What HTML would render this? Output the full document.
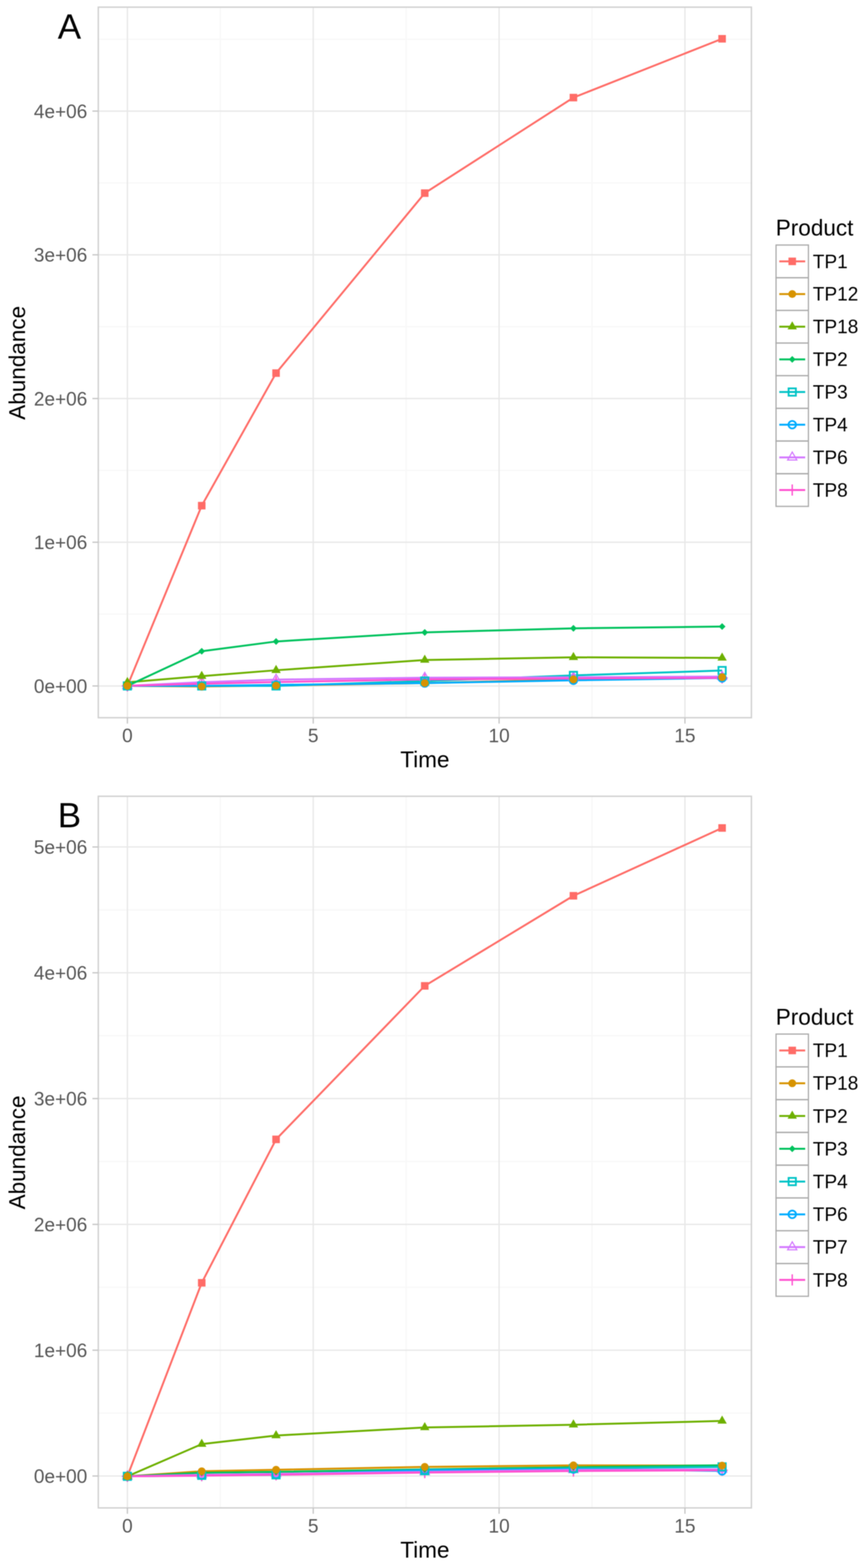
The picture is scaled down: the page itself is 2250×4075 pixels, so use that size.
<!DOCTYPE html><html><head><meta charset="utf-8"><title>Abundance over time</title>
<style>html,body{margin:0;padding:0;background:#fff;}svg{display:block;filter:blur(0.9px);}text{font-family:"Liberation Sans",Arial,Helvetica,sans-serif;}</style></head><body>
<svg width="2250" height="4075" viewBox="0 0 2250 4075">
<rect width="2250" height="4075" fill="#fff"/>
<g stroke="#f8f8f8" stroke-width="3.6"><line x1="255.4" y1="1595.95" x2="1952.3" y2="1595.95"/><line x1="255.4" y1="1222.45" x2="1952.3" y2="1222.45"/><line x1="255.4" y1="848.95" x2="1952.3" y2="848.95"/><line x1="255.4" y1="475.45" x2="1952.3" y2="475.45"/><line x1="255.4" y1="101.95" x2="1952.3" y2="101.95"/><line x1="572.39" y1="18.6" x2="572.39" y2="1865.2"/><line x1="1055.26" y1="18.6" x2="1055.26" y2="1865.2"/><line x1="1538.13" y1="18.6" x2="1538.13" y2="1865.2"/></g>
<g stroke="#e8e8e8" stroke-width="3.4"><line x1="255.4" y1="1782.7" x2="1952.3" y2="1782.7"/><line x1="255.4" y1="1409.2" x2="1952.3" y2="1409.2"/><line x1="255.4" y1="1035.7" x2="1952.3" y2="1035.7"/><line x1="255.4" y1="662.2" x2="1952.3" y2="662.2"/><line x1="255.4" y1="288.7" x2="1952.3" y2="288.7"/><line x1="330.96" y1="18.6" x2="330.96" y2="1865.2"/><line x1="813.83" y1="18.6" x2="813.83" y2="1865.2"/><line x1="1296.7" y1="18.6" x2="1296.7" y2="1865.2"/><line x1="1779.57" y1="18.6" x2="1779.57" y2="1865.2"/></g>
<g fill="none" stroke-width="5" stroke-linejoin="round" stroke-linecap="butt"><polyline points="330.96,1782.6 524.11,1314.12 717.26,969.61 1103.55,501.91 1489.85,253.62 1876.14,100.8" stroke="#FF6C67"/><polyline points="330.96,1782.6 524.11,1784.09 717.26,1781.85 1103.55,1775.13 1489.85,1765.79 1876.14,1759.99" stroke="#D79300"/><polyline points="330.96,1773.26 524.11,1757.19 717.26,1741.87 1103.55,1715.34 1489.85,1708.24 1876.14,1709.74" stroke="#6DB000"/><polyline points="330.96,1782.6 524.11,1692.55 717.26,1667.14 1103.55,1643.6 1489.85,1632.92 1876.14,1628.28" stroke="#00C25D"/><polyline points="330.96,1782.6 524.11,1782.6 717.26,1782.6 1103.55,1769.9 1489.85,1755.32 1876.14,1742.62" stroke="#00C3C6"/><polyline points="330.96,1782.6 524.11,1782.6 717.26,1779.98 1103.55,1775.13 1489.85,1768.03 1876.14,1762.05" stroke="#00ACFF"/><polyline points="330.96,1782.6 524.11,1772.89 717.26,1766.16 1103.55,1761.3 1489.85,1760.18 1876.14,1758.31" stroke="#D377FF"/><polyline points="330.96,1782.6 524.11,1777 717.26,1772.51 1103.55,1765.79 1489.85,1763.17 1876.14,1761.79" stroke="#FF51D0"/></g>
<g><rect x="321.16" y="1772.8" width="19.6" height="19.6" fill="#FF6C67"/><rect x="514.31" y="1304.32" width="19.6" height="19.6" fill="#FF6C67"/><rect x="707.46" y="959.81" width="19.6" height="19.6" fill="#FF6C67"/><rect x="1093.75" y="492.11" width="19.6" height="19.6" fill="#FF6C67"/><rect x="1480.05" y="243.82" width="19.6" height="19.6" fill="#FF6C67"/><rect x="1866.34" y="91" width="19.6" height="19.6" fill="#FF6C67"/><path d="M316.46 1782.6H345.46M330.96 1768.1V1797.1" stroke="#FF51D0" stroke-width="3.6" fill="none"/><path d="M509.61 1777H538.61M524.11 1762.5V1791.5" stroke="#FF51D0" stroke-width="3.6" fill="none"/><path d="M702.76 1772.51H731.76M717.26 1758.01V1787.01" stroke="#FF51D0" stroke-width="3.6" fill="none"/><path d="M1089.05 1765.79H1118.05M1103.55 1751.29V1780.29" stroke="#FF51D0" stroke-width="3.6" fill="none"/><path d="M1475.35 1763.17H1504.35M1489.85 1748.67V1777.67" stroke="#FF51D0" stroke-width="3.6" fill="none"/><path d="M1861.64 1761.79H1890.64M1876.14 1747.29V1776.29" stroke="#FF51D0" stroke-width="3.6" fill="none"/><polygon points="330.96,1768.81 342.9,1789.5 319.02,1789.5" fill="none" stroke="#D377FF" stroke-width="3"/><polygon points="524.11,1759.09 536.05,1779.78 512.16,1779.78" fill="none" stroke="#D377FF" stroke-width="3"/><polygon points="717.26,1752.37 729.2,1773.06 705.31,1773.06" fill="none" stroke="#D377FF" stroke-width="3"/><polygon points="1103.55,1747.51 1115.5,1768.2 1091.61,1768.2" fill="none" stroke="#D377FF" stroke-width="3"/><polygon points="1489.85,1746.39 1501.79,1767.08 1477.9,1767.08" fill="none" stroke="#D377FF" stroke-width="3"/><polygon points="1876.14,1744.52 1888.09,1765.21 1864.2,1765.21" fill="none" stroke="#D377FF" stroke-width="3"/><circle cx="330.96" cy="1782.6" r="9.8" fill="none" stroke="#00ACFF" stroke-width="4.6"/><circle cx="524.11" cy="1782.6" r="9.8" fill="none" stroke="#00ACFF" stroke-width="4.6"/><circle cx="717.26" cy="1779.98" r="9.8" fill="none" stroke="#00ACFF" stroke-width="4.6"/><circle cx="1103.55" cy="1775.13" r="9.8" fill="none" stroke="#00ACFF" stroke-width="4.6"/><circle cx="1489.85" cy="1768.03" r="9.8" fill="none" stroke="#00ACFF" stroke-width="4.6"/><circle cx="1876.14" cy="1762.05" r="9.8" fill="none" stroke="#00ACFF" stroke-width="4.6"/><rect x="321.45" y="1773.09" width="19.01" height="19.01" fill="none" stroke="#00C3C6" stroke-width="4.6"/><rect x="514.6" y="1773.09" width="19.01" height="19.01" fill="none" stroke="#00C3C6" stroke-width="4.6"/><rect x="707.75" y="1773.09" width="19.01" height="19.01" fill="none" stroke="#00C3C6" stroke-width="4.6"/><rect x="1094.05" y="1760.39" width="19.01" height="19.01" fill="none" stroke="#00C3C6" stroke-width="4.6"/><rect x="1480.34" y="1745.82" width="19.01" height="19.01" fill="none" stroke="#00C3C6" stroke-width="4.6"/><rect x="1866.64" y="1733.11" width="19.01" height="19.01" fill="none" stroke="#00C3C6" stroke-width="4.6"/><polygon points="322.14,1782.6 330.96,1773.78 339.78,1782.6 330.96,1791.42" fill="#00C25D"/><polygon points="515.29,1692.55 524.11,1683.73 532.93,1692.55 524.11,1701.37" fill="#00C25D"/><polygon points="708.44,1667.14 717.26,1658.32 726.08,1667.14 717.26,1675.96" fill="#00C25D"/><polygon points="1094.73,1643.6 1103.55,1634.78 1112.37,1643.6 1103.55,1652.42" fill="#00C25D"/><polygon points="1481.03,1632.92 1489.85,1624.1 1498.67,1632.92 1489.85,1641.74" fill="#00C25D"/><polygon points="1867.32,1628.28 1876.14,1619.46 1884.96,1628.28 1876.14,1637.1" fill="#00C25D"/><polygon points="330.96,1759.24 343.1,1780.27 318.82,1780.27" fill="#6DB000"/><polygon points="524.11,1743.17 536.25,1764.2 511.97,1764.2" fill="#6DB000"/><polygon points="717.26,1727.85 729.4,1748.88 705.11,1748.88" fill="#6DB000"/><polygon points="1103.55,1701.32 1115.69,1722.35 1091.41,1722.35" fill="#6DB000"/><polygon points="1489.85,1694.22 1501.99,1715.25 1477.71,1715.25" fill="#6DB000"/><polygon points="1876.14,1695.72 1888.29,1716.75 1864,1716.75" fill="#6DB000"/><circle cx="330.96" cy="1782.6" r="10.2" fill="#D79300"/><circle cx="524.11" cy="1784.09" r="10.2" fill="#D79300"/><circle cx="717.26" cy="1781.85" r="10.2" fill="#D79300"/><circle cx="1103.55" cy="1775.13" r="10.2" fill="#D79300"/><circle cx="1489.85" cy="1765.79" r="10.2" fill="#D79300"/><circle cx="1876.14" cy="1759.99" r="10.2" fill="#D79300"/></g>
<rect x="255.4" y="18.6" width="1696.9" height="1846.6" fill="none" stroke="#d0d0d0" stroke-width="3.6"/>
<g stroke="#c4c4c4" stroke-width="3.2"><line x1="240.1" y1="1782.7" x2="255.4" y2="1782.7"/><line x1="240.1" y1="1409.2" x2="255.4" y2="1409.2"/><line x1="240.1" y1="1035.7" x2="255.4" y2="1035.7"/><line x1="240.1" y1="662.2" x2="255.4" y2="662.2"/><line x1="240.1" y1="288.7" x2="255.4" y2="288.7"/><line x1="330.96" y1="1865.2" x2="330.96" y2="1880.5"/><line x1="813.83" y1="1865.2" x2="813.83" y2="1880.5"/><line x1="1296.7" y1="1865.2" x2="1296.7" y2="1880.5"/><line x1="1779.57" y1="1865.2" x2="1779.57" y2="1880.5"/></g>
<g fill="#575757" font-size="49.4"><text x="226.7" y="1800.7" text-anchor="end">0e+00</text><text x="226.7" y="1427.2" text-anchor="end">1e+06</text><text x="226.7" y="1053.7" text-anchor="end">2e+06</text><text x="226.7" y="680.2" text-anchor="end">3e+06</text><text x="226.7" y="306.7" text-anchor="end">4e+06</text><text x="330.96" y="1928.9" text-anchor="middle">0</text><text x="813.83" y="1928.9" text-anchor="middle">5</text><text x="1296.7" y="1928.9" text-anchor="middle">10</text><text x="1779.57" y="1928.9" text-anchor="middle">15</text></g>
<text x="1103.85" y="1994.1" text-anchor="middle" font-size="58.5" fill="#000">Time</text>
<text transform="translate(65.3 942.9) rotate(-90)" text-anchor="middle" font-size="58.5" fill="#000">Abundance</text>
<text x="150" y="100.2" font-size="91" fill="#000">A</text>
<text x="2015.6" y="611.5" font-size="58.5" fill="#000">Product</text>
<line x1="2024.71" y1="679.25" x2="2091.99" y2="679.25" stroke="#FF6C67" stroke-width="5"/><rect x="2048.55" y="669.45" width="19.6" height="19.6" fill="#FF6C67"/><text x="2111.8" y="696.55" font-size="49.4" fill="#000">TP1</text><line x1="2024.71" y1="764.15" x2="2091.99" y2="764.15" stroke="#D79300" stroke-width="5"/><circle cx="2058.35" cy="764.15" r="10.2" fill="#D79300"/><text x="2111.8" y="781.45" font-size="49.4" fill="#000">TP12</text><line x1="2024.71" y1="849.05" x2="2091.99" y2="849.05" stroke="#6DB000" stroke-width="5"/><polygon points="2058.35,835.03 2070.49,856.06 2046.21,856.06" fill="#6DB000"/><text x="2111.8" y="866.35" font-size="49.4" fill="#000">TP18</text><line x1="2024.71" y1="933.95" x2="2091.99" y2="933.95" stroke="#00C25D" stroke-width="5"/><polygon points="2049.53,933.95 2058.35,925.13 2067.17,933.95 2058.35,942.77" fill="#00C25D"/><text x="2111.8" y="951.25" font-size="49.4" fill="#000">TP2</text><line x1="2024.71" y1="1018.85" x2="2091.99" y2="1018.85" stroke="#00C3C6" stroke-width="5"/><rect x="2048.84" y="1009.34" width="19.01" height="19.01" fill="none" stroke="#00C3C6" stroke-width="4.6"/><text x="2111.8" y="1036.15" font-size="49.4" fill="#000">TP3</text><line x1="2024.71" y1="1103.75" x2="2091.99" y2="1103.75" stroke="#00ACFF" stroke-width="5"/><circle cx="2058.35" cy="1103.75" r="9.8" fill="none" stroke="#00ACFF" stroke-width="4.6"/><text x="2111.8" y="1121.05" font-size="49.4" fill="#000">TP4</text><line x1="2024.71" y1="1188.65" x2="2091.99" y2="1188.65" stroke="#D377FF" stroke-width="5"/><polygon points="2058.35,1174.86 2070.29,1195.55 2046.41,1195.55" fill="none" stroke="#D377FF" stroke-width="3"/><text x="2111.8" y="1205.95" font-size="49.4" fill="#000">TP6</text><line x1="2024.71" y1="1273.55" x2="2091.99" y2="1273.55" stroke="#FF51D0" stroke-width="5"/><path d="M2043.85 1273.55H2072.85M2058.35 1259.05V1288.05" stroke="#FF51D0" stroke-width="3.6" fill="none"/><text x="2111.8" y="1290.85" font-size="49.4" fill="#000">TP8</text>
<g fill="none" stroke="#ababab" stroke-width="3.2"><rect x="2016.3" y="636.8" width="84.1" height="84.9"/><rect x="2016.3" y="721.7" width="84.1" height="84.9"/><rect x="2016.3" y="806.6" width="84.1" height="84.9"/><rect x="2016.3" y="891.5" width="84.1" height="84.9"/><rect x="2016.3" y="976.4" width="84.1" height="84.9"/><rect x="2016.3" y="1061.3" width="84.1" height="84.9"/><rect x="2016.3" y="1146.2" width="84.1" height="84.9"/><rect x="2016.3" y="1231.1" width="84.1" height="84.9"/></g>
<g stroke="#f8f8f8" stroke-width="3.6"><line x1="255.4" y1="3672.43" x2="1952.3" y2="3672.43"/><line x1="255.4" y1="3345.48" x2="1952.3" y2="3345.48"/><line x1="255.4" y1="3018.53" x2="1952.3" y2="3018.53"/><line x1="255.4" y1="2691.57" x2="1952.3" y2="2691.57"/><line x1="255.4" y1="2364.62" x2="1952.3" y2="2364.62"/><line x1="572.39" y1="2069.4" x2="572.39" y2="3918.8"/><line x1="1055.26" y1="2069.4" x2="1055.26" y2="3918.8"/><line x1="1538.13" y1="2069.4" x2="1538.13" y2="3918.8"/></g>
<g stroke="#e8e8e8" stroke-width="3.4"><line x1="255.4" y1="3835.9" x2="1952.3" y2="3835.9"/><line x1="255.4" y1="3508.95" x2="1952.3" y2="3508.95"/><line x1="255.4" y1="3182" x2="1952.3" y2="3182"/><line x1="255.4" y1="2855.05" x2="1952.3" y2="2855.05"/><line x1="255.4" y1="2528.1" x2="1952.3" y2="2528.1"/><line x1="255.4" y1="2201.15" x2="1952.3" y2="2201.15"/><line x1="330.96" y1="2069.4" x2="330.96" y2="3918.8"/><line x1="813.83" y1="2069.4" x2="813.83" y2="3918.8"/><line x1="1296.7" y1="2069.4" x2="1296.7" y2="3918.8"/><line x1="1779.57" y1="2069.4" x2="1779.57" y2="3918.8"/></g>
<g fill="none" stroke-width="5" stroke-linejoin="round" stroke-linecap="butt"><polyline points="330.96,3836.7 524.11,3333.8 717.26,2961.05 1103.55,2562.13 1489.85,2328.01 1876.14,2151.77" stroke="#FF6C67"/><polyline points="330.96,3836.7 524.11,3823.62 717.26,3819.7 1103.55,3812.18 1489.85,3808.25 1876.14,3808.91" stroke="#D79300"/><polyline points="330.96,3836.7 524.11,3753.09 717.26,3730.76 1103.55,3709.83 1489.85,3702.64 1876.14,3692.83" stroke="#6DB000"/><polyline points="330.96,3836.7 524.11,3827.54 717.26,3825.26 1103.55,3818.72 1489.85,3813.16 1876.14,3807.93" stroke="#00C25D"/><polyline points="330.96,3836.7 524.11,3834.08 717.26,3832.78 1103.55,3821.99 1489.85,3816.1 1876.14,3812.18" stroke="#00C3C6"/><polyline points="330.96,3836.7 524.11,3834.08 717.26,3831.8 1103.55,3820.35 1489.85,3818.06 1876.14,3822.64" stroke="#00ACFF"/><polyline points="330.96,3836.7 524.11,3832.78 717.26,3830.16 1103.55,3825.26 1489.85,3820.02 1876.14,3818.72" stroke="#D377FF"/><polyline points="330.96,3836.7 524.11,3835.07 717.26,3832.78 1103.55,3826.89 1489.85,3822.97 1876.14,3821" stroke="#FF51D0"/></g>
<g><rect x="321.16" y="3826.9" width="19.6" height="19.6" fill="#FF6C67"/><rect x="514.31" y="3324" width="19.6" height="19.6" fill="#FF6C67"/><rect x="707.46" y="2951.25" width="19.6" height="19.6" fill="#FF6C67"/><rect x="1093.75" y="2552.33" width="19.6" height="19.6" fill="#FF6C67"/><rect x="1480.05" y="2318.21" width="19.6" height="19.6" fill="#FF6C67"/><rect x="1866.34" y="2141.97" width="19.6" height="19.6" fill="#FF6C67"/><path d="M316.46 3836.7H345.46M330.96 3822.2V3851.2" stroke="#FF51D0" stroke-width="3.6" fill="none"/><path d="M509.61 3835.07H538.61M524.11 3820.57V3849.57" stroke="#FF51D0" stroke-width="3.6" fill="none"/><path d="M702.76 3832.78H731.76M717.26 3818.28V3847.28" stroke="#FF51D0" stroke-width="3.6" fill="none"/><path d="M1089.05 3826.89H1118.05M1103.55 3812.39V3841.39" stroke="#FF51D0" stroke-width="3.6" fill="none"/><path d="M1475.35 3822.97H1504.35M1489.85 3808.47V3837.47" stroke="#FF51D0" stroke-width="3.6" fill="none"/><path d="M1861.64 3821H1890.64M1876.14 3806.5V3835.5" stroke="#FF51D0" stroke-width="3.6" fill="none"/><polygon points="330.96,3822.91 342.9,3843.6 319.02,3843.6" fill="none" stroke="#D377FF" stroke-width="3"/><polygon points="524.11,3818.98 536.05,3839.67 512.16,3839.67" fill="none" stroke="#D377FF" stroke-width="3"/><polygon points="717.26,3816.37 729.2,3837.06 705.31,3837.06" fill="none" stroke="#D377FF" stroke-width="3"/><polygon points="1103.55,3811.46 1115.5,3832.15 1091.61,3832.15" fill="none" stroke="#D377FF" stroke-width="3"/><polygon points="1489.85,3806.23 1501.79,3826.92 1477.9,3826.92" fill="none" stroke="#D377FF" stroke-width="3"/><polygon points="1876.14,3804.92 1888.09,3825.61 1864.2,3825.61" fill="none" stroke="#D377FF" stroke-width="3"/><circle cx="330.96" cy="3836.7" r="9.8" fill="none" stroke="#00ACFF" stroke-width="4.6"/><circle cx="524.11" cy="3834.08" r="9.8" fill="none" stroke="#00ACFF" stroke-width="4.6"/><circle cx="717.26" cy="3831.8" r="9.8" fill="none" stroke="#00ACFF" stroke-width="4.6"/><circle cx="1103.55" cy="3820.35" r="9.8" fill="none" stroke="#00ACFF" stroke-width="4.6"/><circle cx="1489.85" cy="3818.06" r="9.8" fill="none" stroke="#00ACFF" stroke-width="4.6"/><circle cx="1876.14" cy="3822.64" r="9.8" fill="none" stroke="#00ACFF" stroke-width="4.6"/><rect x="321.45" y="3827.19" width="19.01" height="19.01" fill="none" stroke="#00C3C6" stroke-width="4.6"/><rect x="514.6" y="3824.58" width="19.01" height="19.01" fill="none" stroke="#00C3C6" stroke-width="4.6"/><rect x="707.75" y="3823.27" width="19.01" height="19.01" fill="none" stroke="#00C3C6" stroke-width="4.6"/><rect x="1094.05" y="3812.48" width="19.01" height="19.01" fill="none" stroke="#00C3C6" stroke-width="4.6"/><rect x="1480.34" y="3806.59" width="19.01" height="19.01" fill="none" stroke="#00C3C6" stroke-width="4.6"/><rect x="1866.64" y="3802.67" width="19.01" height="19.01" fill="none" stroke="#00C3C6" stroke-width="4.6"/><polygon points="322.14,3836.7 330.96,3827.88 339.78,3836.7 330.96,3845.52" fill="#00C25D"/><polygon points="515.29,3827.54 524.11,3818.72 532.93,3827.54 524.11,3836.36" fill="#00C25D"/><polygon points="708.44,3825.26 717.26,3816.44 726.08,3825.26 717.26,3834.08" fill="#00C25D"/><polygon points="1094.73,3818.72 1103.55,3809.9 1112.37,3818.72 1103.55,3827.54" fill="#00C25D"/><polygon points="1481.03,3813.16 1489.85,3804.34 1498.67,3813.16 1489.85,3821.98" fill="#00C25D"/><polygon points="1867.32,3807.93 1876.14,3799.11 1884.96,3807.93 1876.14,3816.75" fill="#00C25D"/><polygon points="330.96,3822.68 343.1,3843.71 318.82,3843.71" fill="#6DB000"/><polygon points="524.11,3739.07 536.25,3760.1 511.97,3760.1" fill="#6DB000"/><polygon points="717.26,3716.74 729.4,3737.77 705.11,3737.77" fill="#6DB000"/><polygon points="1103.55,3695.81 1115.69,3716.84 1091.41,3716.84" fill="#6DB000"/><polygon points="1489.85,3688.62 1501.99,3709.65 1477.71,3709.65" fill="#6DB000"/><polygon points="1876.14,3678.81 1888.29,3699.84 1864,3699.84" fill="#6DB000"/><circle cx="330.96" cy="3836.7" r="10.2" fill="#D79300"/><circle cx="524.11" cy="3823.62" r="10.2" fill="#D79300"/><circle cx="717.26" cy="3819.7" r="10.2" fill="#D79300"/><circle cx="1103.55" cy="3812.18" r="10.2" fill="#D79300"/><circle cx="1489.85" cy="3808.25" r="10.2" fill="#D79300"/><circle cx="1876.14" cy="3808.91" r="10.2" fill="#D79300"/></g>
<rect x="255.4" y="2069.4" width="1696.9" height="1849.4" fill="none" stroke="#d0d0d0" stroke-width="3.6"/>
<g stroke="#c4c4c4" stroke-width="3.2"><line x1="240.1" y1="3835.9" x2="255.4" y2="3835.9"/><line x1="240.1" y1="3508.95" x2="255.4" y2="3508.95"/><line x1="240.1" y1="3182" x2="255.4" y2="3182"/><line x1="240.1" y1="2855.05" x2="255.4" y2="2855.05"/><line x1="240.1" y1="2528.1" x2="255.4" y2="2528.1"/><line x1="240.1" y1="2201.15" x2="255.4" y2="2201.15"/><line x1="330.96" y1="3918.8" x2="330.96" y2="3934.1"/><line x1="813.83" y1="3918.8" x2="813.83" y2="3934.1"/><line x1="1296.7" y1="3918.8" x2="1296.7" y2="3934.1"/><line x1="1779.57" y1="3918.8" x2="1779.57" y2="3934.1"/></g>
<g fill="#575757" font-size="49.4"><text x="226.7" y="3853.9" text-anchor="end">0e+00</text><text x="226.7" y="3526.95" text-anchor="end">1e+06</text><text x="226.7" y="3200" text-anchor="end">2e+06</text><text x="226.7" y="2873.05" text-anchor="end">3e+06</text><text x="226.7" y="2546.1" text-anchor="end">4e+06</text><text x="226.7" y="2219.15" text-anchor="end">5e+06</text><text x="330.96" y="3982.5" text-anchor="middle">0</text><text x="813.83" y="3982.5" text-anchor="middle">5</text><text x="1296.7" y="3982.5" text-anchor="middle">10</text><text x="1779.57" y="3982.5" text-anchor="middle">15</text></g>
<text x="1103.85" y="4047.7" text-anchor="middle" font-size="58.5" fill="#000">Time</text>
<text transform="translate(65.3 2995.1) rotate(-90)" text-anchor="middle" font-size="58.5" fill="#000">Abundance</text>
<text x="150" y="2149.8" font-size="91" fill="#000">B</text>
<text x="2015.6" y="2663.1" font-size="58.5" fill="#000">Product</text>
<line x1="2024.71" y1="2729.99" x2="2091.99" y2="2729.99" stroke="#FF6C67" stroke-width="5"/><rect x="2048.55" y="2720.19" width="19.6" height="19.6" fill="#FF6C67"/><text x="2111.8" y="2747.29" font-size="49.4" fill="#000">TP1</text><line x1="2024.71" y1="2815.17" x2="2091.99" y2="2815.17" stroke="#D79300" stroke-width="5"/><circle cx="2058.35" cy="2815.17" r="10.2" fill="#D79300"/><text x="2111.8" y="2832.47" font-size="49.4" fill="#000">TP18</text><line x1="2024.71" y1="2900.35" x2="2091.99" y2="2900.35" stroke="#6DB000" stroke-width="5"/><polygon points="2058.35,2886.33 2070.49,2907.36 2046.21,2907.36" fill="#6DB000"/><text x="2111.8" y="2917.65" font-size="49.4" fill="#000">TP2</text><line x1="2024.71" y1="2985.53" x2="2091.99" y2="2985.53" stroke="#00C25D" stroke-width="5"/><polygon points="2049.53,2985.53 2058.35,2976.71 2067.17,2985.53 2058.35,2994.35" fill="#00C25D"/><text x="2111.8" y="3002.83" font-size="49.4" fill="#000">TP3</text><line x1="2024.71" y1="3070.71" x2="2091.99" y2="3070.71" stroke="#00C3C6" stroke-width="5"/><rect x="2048.84" y="3061.2" width="19.01" height="19.01" fill="none" stroke="#00C3C6" stroke-width="4.6"/><text x="2111.8" y="3088.01" font-size="49.4" fill="#000">TP4</text><line x1="2024.71" y1="3155.89" x2="2091.99" y2="3155.89" stroke="#00ACFF" stroke-width="5"/><circle cx="2058.35" cy="3155.89" r="9.8" fill="none" stroke="#00ACFF" stroke-width="4.6"/><text x="2111.8" y="3173.19" font-size="49.4" fill="#000">TP6</text><line x1="2024.71" y1="3241.07" x2="2091.99" y2="3241.07" stroke="#D377FF" stroke-width="5"/><polygon points="2058.35,3227.28 2070.29,3247.97 2046.41,3247.97" fill="none" stroke="#D377FF" stroke-width="3"/><text x="2111.8" y="3258.37" font-size="49.4" fill="#000">TP7</text><line x1="2024.71" y1="3326.25" x2="2091.99" y2="3326.25" stroke="#FF51D0" stroke-width="5"/><path d="M2043.85 3326.25H2072.85M2058.35 3311.75V3340.75" stroke="#FF51D0" stroke-width="3.6" fill="none"/><text x="2111.8" y="3343.55" font-size="49.4" fill="#000">TP8</text>
<g fill="none" stroke="#ababab" stroke-width="3.2"><rect x="2016.3" y="2687.4" width="84.1" height="85.18"/><rect x="2016.3" y="2772.58" width="84.1" height="85.18"/><rect x="2016.3" y="2857.76" width="84.1" height="85.18"/><rect x="2016.3" y="2942.94" width="84.1" height="85.18"/><rect x="2016.3" y="3028.12" width="84.1" height="85.18"/><rect x="2016.3" y="3113.3" width="84.1" height="85.18"/><rect x="2016.3" y="3198.48" width="84.1" height="85.18"/><rect x="2016.3" y="3283.66" width="84.1" height="85.18"/></g>
</svg></body></html>
